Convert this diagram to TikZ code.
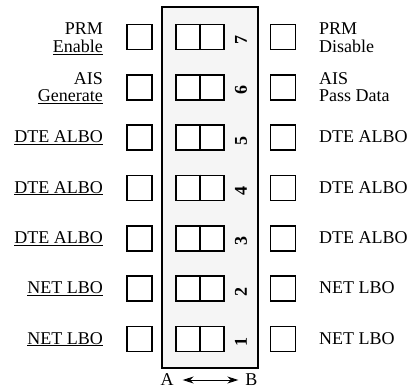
\documentclass[tikz,border=0pt]{standalone}
\usepackage{fontspec}
\setmainfont{Liberation Serif}
\usetikzlibrary{arrows.meta}
\begin{document}
\begin{tikzpicture}[x=1pt,y=-1pt,
  lbl/.style={inner sep=0pt,font=\fontsize{18}{18}\selectfont},
  sq/.style={draw,line width=1.8pt,minimum width=25pt,minimum height=25pt,inner sep=0pt},
  dbl/.style={draw,line width=1.8pt,minimum width=48pt,minimum height=25pt,inner sep=0pt,fill=white},
  num/.style={inner sep=0pt,rotate=90,font=\fontsize{18}{18}\selectfont\bfseries}]
\useasboundingbox (0,0) rectangle (410,391);
\node[draw,line width=1.8pt,fill=gray!8,minimum width=96pt,minimum height=360.7pt,inner sep=0pt] (frame) at (210,187.65) {};
\foreach \i in {1,...,7}{
  \pgfmathsetmacro{\yy}{339-(\i-1)*50.33}
  \node[sq] (ls\i) at (139.8,\yy) {};
  \node[dbl] (sw\i) at (199.9,\yy) {};
  \draw[line width=1.8pt] (sw\i.north) -- (sw\i.south);
  \node[num] (n\i) at (241,\yy+3) {\i};
  \node[sq] (rs\i) at (283,\yy) {};
}
% left labels
\node[lbl,anchor=base east] (l7a) at (103,34.5) {PRM};
\node[lbl,anchor=base east] (l7b) at (103,52.5) {\underline{Enable}};
\node[lbl,anchor=base east] (l6a) at (103,84.5) {AIS};
\node[lbl,anchor=base east] (l6b) at (103,101.5) {\underline{Generate}};
\foreach \i in {5,4,3}{
  \pgfmathsetmacro{\yy}{339-(\i-1)*50.33+5}
  \node[lbl,anchor=base east] (l\i) at (103,\yy) {\underline{DTE ALBO}};
  \node[lbl,anchor=base west] (r\i) at (319,\yy) {DTE ALBO};
}
\foreach \i in {2,1}{
  \pgfmathsetmacro{\yy}{339-(\i-1)*50.33+5}
  \node[lbl,anchor=base east] (l\i) at (103,\yy) {\underline{NET LBO}};
  \node[lbl,anchor=base west] (r\i) at (319,\yy) {NET LBO};
}
% right labels
\node[lbl,anchor=base west] (r7a) at (319,34.5) {PRM};
\node[lbl,anchor=base west] (r7b) at (319,52.5) {Disable};
\node[lbl,anchor=base west] (r6a) at (319,84.5) {AIS};
\node[lbl,anchor=base west] (r6b) at (319,101.5) {Pass Data};
% bottom
\node[lbl,anchor=base] (A) at (167,385) {A};
\node[lbl,anchor=base] (B) at (251.5,385) {B};
\coordinate (aL) at (182.7,380);
\coordinate (aR) at (238.3,380);
\draw[line width=0.8pt,{Stealth[length=11pt,width=7pt]}-{Stealth[length=11pt,width=7pt]}] (aL) -- (aR);
\end{tikzpicture}
\end{document}
